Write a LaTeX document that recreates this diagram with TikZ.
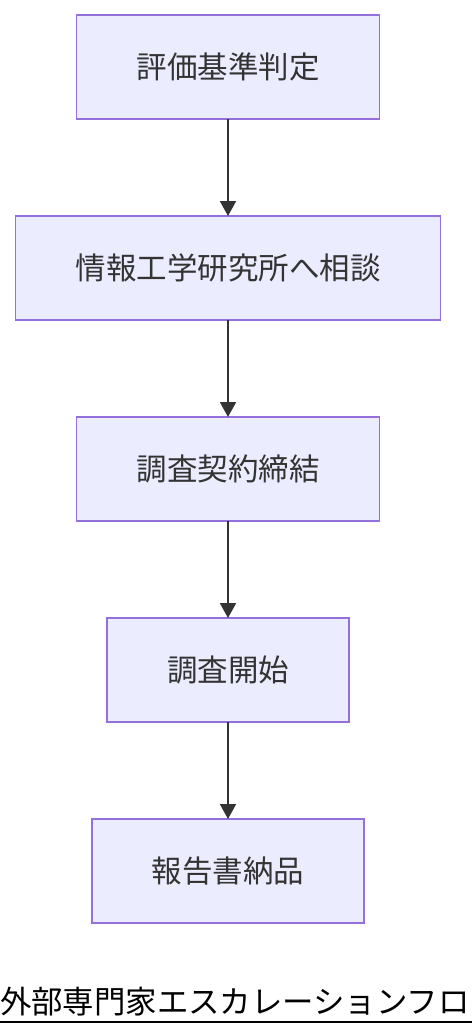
\documentclass[tikz,border=0pt]{standalone}
\usepackage{fontspec}
\setmainfont{Noto Sans CJK JP}
\usetikzlibrary{positioning,arrows.meta}
\definecolor{boxfill}{HTML}{ECECFF}
\definecolor{boxline}{HTML}{9370DB}
\definecolor{flowtext}{HTML}{333333}
\tikzset{x=1pt,y=1pt,
    node distance=97pt,
    flowbox/.style={draw=boxline,fill=boxfill,line width=1.6pt,
        minimum height=104pt,inner xsep=60pt,outer sep=0pt,
        text=flowtext,font=\fontsize{30.5}{36}\selectfont},
    flowarrow/.style={draw=flowtext,line width=2pt,
        -{Triangle[length=15pt,width=16pt]}},
    }
\begin{document}
\begin{tikzpicture}
	\useasboundingbox (0,0) rectangle (472,-1036);
	\node[flowbox] (judge) at (228,-67) {評価基準判定};
	\node[flowbox,below=of judge] (consult) {情報工学研究所へ相談};
	\node[flowbox,below=of consult] (contract) {調査契約締結};
	\node[flowbox,below=of contract] (start) {調査開始};
	\node[flowbox,below=of start] (report) {報告書納品};
	% connectors
	\draw[flowarrow] (judge) -- (consult);
	\draw[flowarrow] (consult) -- (contract);
	\draw[flowarrow] (contract) -- (start);
	\draw[flowarrow] (start) -- (report);
	% title
	\node[anchor=base west,inner sep=0pt,font=\fontsize{31.4}{36}\selectfont]
		(title) at (0,-1013) {外部専門家エスカレーションフロ};
	\draw[line width=2.4pt] (0,-1022) -- (472,-1022);
\end{tikzpicture}
\end{document}
